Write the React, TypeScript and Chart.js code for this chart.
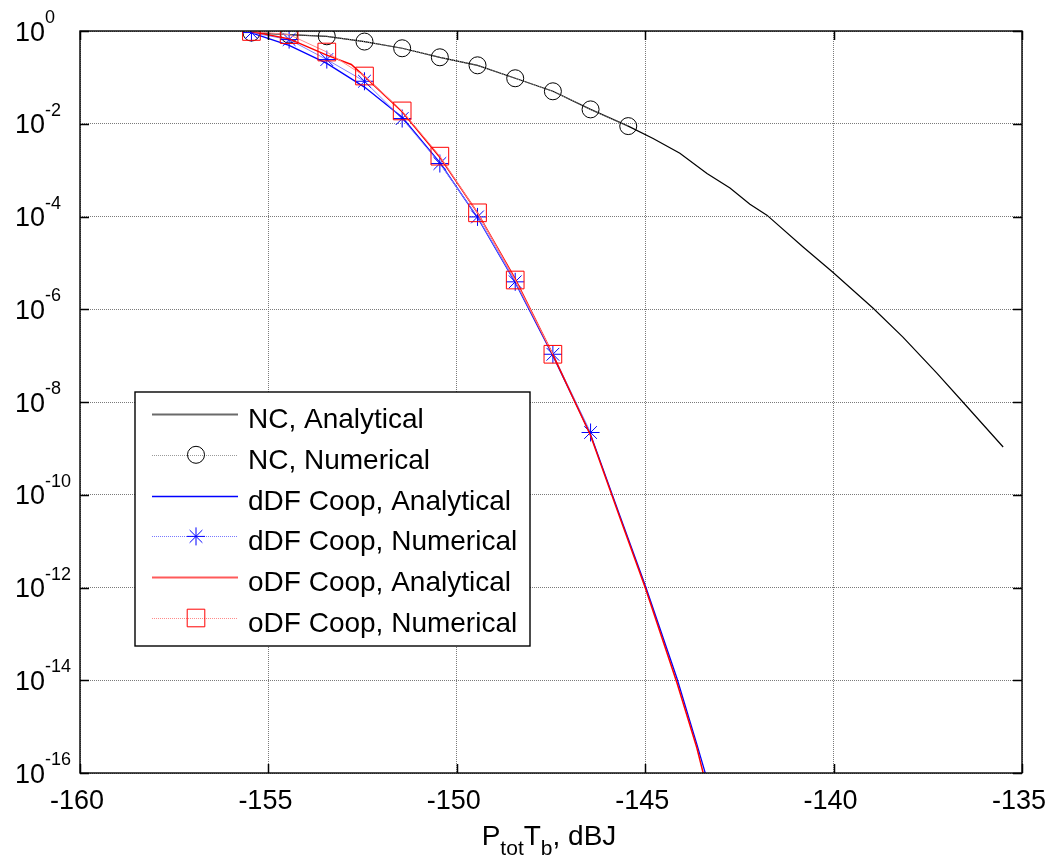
import React, { useEffect, useRef } from 'react';
import { Chart, registerables } from 'chart.js';

Chart.register(...registerables);

// ---------- data ----------
const xTicks = [-160, -155, -150, -145, -140, -135];
const yTickExponents = [0, -2, -4, -6, -8, -10, -12, -14, -16];

const seriesLabels = [
  'NC, Analytical',
  'NC, Numerical',
  'dDF Coop, Analytical',
  'dDF Coop, Numerical',
  'oDF Coop, Analytical',
  'oDF Coop, Numerical',
];

const ncNumericalX = [-155.45, -154.45, -153.45, -152.45, -151.45, -150.45, -149.45, -148.45, -147.45, -146.45, -145.45];
const ncNumerical = [0.925, 0.836, 0.769, 0.592, 0.424, 0.271, 0.182, 0.0957, 0.0501, 0.0204, 0.0089];

const ncAnalyticalX = [-155.45, -154.45, -153.45, -152.45, -151.45, -150.45, -149.45, -148.45, -147.45, -146.45, -145.45,
  -144.79, -144.08, -143.36, -142.75, -142.22, -141.77, -140.81, -140.02, -138.95, -138.16, -137.26, -136.57, -135.5];
const ncAnalytical = [0.925, 0.836, 0.769, 0.592, 0.424, 0.271, 0.182, 0.0957, 0.0501, 0.0204, 0.0089,
  4.8e-3, 2.3e-3, 8.5e-4, 4.1e-4, 1.84e-4, 1.07e-4, 2.2e-5, 6.3e-6, 1.05e-6, 2.5e-7, 4.2e-8, 1.0e-8, 1.07e-9];

const ddfNumericalX = [-155.45, -154.45, -153.45, -152.45, -151.45, -150.45, -149.45, -148.45, -147.45, -146.45];
const ddfNumerical = [0.925, 0.653, 0.242, 0.0824, 0.01294, 1.387e-3, 9.8e-5, 3.9e-6, 1.07e-7, 2.2e-9];

const ddfAnalyticalX = [-155.45, -154.45, -153.45, -152.45, -151.45, -150.45, -149.45, -148.45, -147.45, -146.45,
  -145.67, -145.0, -144.16, -143.63, -143.37];
const ddfAnalytical = [0.912, 0.49, 0.2, 0.0617, 0.0138, 1.45e-3, 9.5e-5, 3.8e-6, 1.0e-7, 2.0e-9,
  3.5e-11, 1.12e-12, 1.12e-14, 4.2e-16, 7.9e-17];

const odfNumericalX = [-155.45, -154.45, -153.45, -152.45, -151.45, -150.45, -149.45, -148.45, -147.45];
const odfNumerical = [0.977, 0.836, 0.352, 0.107, 0.0189, 2.0e-3, 1.2e-4, 4.27e-6, 1.07e-7];

const odfAnalyticalX = [-155.45, -154.45, -153.45, -152.8, -152.45, -151.45, -150.45, -149.45, -148.45, -147.45, -146.45,
  -145.67, -145.0, -144.16, -143.63, -143.43];
const odfAnalytical = [0.977, 0.676, 0.302, 0.19, 0.105, 0.0182, 1.9e-3, 1.2e-4, 4.5e-6, 1.05e-7, 1.9e-9,
  3.2e-11, 1.0e-12, 8.9e-15, 3.5e-16, 7.9e-17];

// ---------- helpers ----------
const zip = (xs: number[], ys: number[]) => xs.map((x, i) => ({ x, y: ys[i] }));

const FONT = '"Liberation Sans", Arial, Helvetica, sans-serif';

type MarkerKind = 'circle' | 'star' | 'rect' | null;

function drawMarker(ctx: CanvasRenderingContext2D, kind: MarkerKind, x: number, y: number, color: string) {
  if (!kind) return;
  ctx.save();
  ctx.strokeStyle = color;
  ctx.lineWidth = 1;
  ctx.setLineDash([]);
  ctx.beginPath();
  if (kind === 'circle') {
    ctx.arc(x, y, 8.5, 0, Math.PI * 2);
  } else if (kind === 'rect') {
    ctx.rect(x - 8.8, y - 8.8, 17.6, 17.6);
  } else if (kind === 'star') {
    const r = 9;
    const d = r * Math.SQRT1_2;
    ctx.moveTo(x - r, y); ctx.lineTo(x + r, y);
    ctx.moveTo(x, y - r); ctx.lineTo(x, y + r);
    ctx.moveTo(x - d, y - d); ctx.lineTo(x + d, y + d);
    ctx.moveTo(x - d, y + d); ctx.lineTo(x + d, y - d);
  }
  ctx.stroke();
  ctx.restore();
}

const legendStyles: { color: string; width: number; dash: number[]; marker: MarkerKind; markerColor: string }[] = [
  { color: '#6a6a6a', width: 2, dash: [], marker: null, markerColor: '#000' },
  { color: '#9a9a9a', width: 1, dash: [1, 1], marker: 'circle', markerColor: '#000' },
  { color: '#0000ff', width: 1.5, dash: [], marker: null, markerColor: '#00f' },
  { color: '#7878ff', width: 1, dash: [1, 1], marker: 'star', markerColor: '#0000ff' },
  { color: '#ff5a5a', width: 2, dash: [], marker: null, markerColor: '#f00' },
  { color: '#ff8a8a', width: 1, dash: [1, 1], marker: 'rect', markerColor: '#ff0000' },
];

const matlabPlugin = {
  id: 'matlabAxes',
  afterDraw(chart: any) {
    const { ctx, chartArea: a, scales } = chart;
    const xs = scales.x;
    const ys = scales.y;
    ctx.save();

    // tick marks (inward, all four sides)
    ctx.strokeStyle = '#000';
    ctx.lineWidth = 1.5;
    ctx.setLineDash([]);
    const tl = 9;
    ctx.beginPath();
    xTicks.forEach((v) => {
      const px = Math.round(xs.getPixelForValue(v)) + 0.5;
      ctx.moveTo(px, a.bottom); ctx.lineTo(px, a.bottom - tl);
      ctx.moveTo(px, a.top); ctx.lineTo(px, a.top + tl);
    });
    yTickExponents.forEach((e) => {
      const py = Math.round(ys.getPixelForValue(Math.pow(10, e))) + 0.5;
      ctx.moveTo(a.left, py); ctx.lineTo(a.left + tl, py);
      ctx.moveTo(a.right, py); ctx.lineTo(a.right - tl, py);
    });
    ctx.stroke();

    // frame
    ctx.lineWidth = 1.4;
    ctx.strokeRect(a.left, a.top, a.right - a.left, a.bottom - a.top);

    // x tick labels
    ctx.fillStyle = '#000';
    ctx.font = `27px ${FONT}`;
    ctx.textAlign = 'center';
    ctx.textBaseline = 'alphabetic';
    xTicks.forEach((v) => {
      const px = xs.getPixelForValue(v);
      ctx.fillText(String(v), px - 3, a.bottom + 36);
    });

    // y tick labels: 10^e
    yTickExponents.forEach((e) => {
      const py = ys.getPixelForValue(Math.pow(10, e));
      ctx.textAlign = 'left';
      ctx.font = `27px ${FONT}`;
      const baseX = 15;
      ctx.fillText('10', baseX, py + 9.5);
      const w = ctx.measureText('10').width;
      ctx.font = `18px ${FONT}`;
      ctx.fillText(String(e), baseX + w, py - 8);
    });

    // x axis title: P_tot T_b, dBJ
    const parts: { t: string; sub: boolean }[] = [
      { t: 'P', sub: false },
      { t: 'tot', sub: true },
      { t: 'T', sub: false },
      { t: 'b', sub: true },
      { t: ', dBJ', sub: false },
    ];
    const mainFont = `28px ${FONT}`;
    const subFont = `21px ${FONT}`;
    let total = 0;
    parts.forEach((p) => {
      ctx.font = p.sub ? subFont : mainFont;
      total += ctx.measureText(p.t).width;
    });
    let cx = (a.left + a.right) / 2 - 2 - total / 2;
    ctx.textAlign = 'left';
    parts.forEach((p) => {
      ctx.font = p.sub ? subFont : mainFont;
      ctx.fillText(p.t, cx, p.sub ? a.bottom + 82 : a.bottom + 72);
      cx += ctx.measureText(p.t).width;
    });

    // legend box
    const L = { left: a.left + 55, top: a.top + 361, width: 395, height: 254 };
    ctx.fillStyle = '#fff';
    ctx.fillRect(L.left, L.top, L.width, L.height);
    ctx.strokeStyle = '#000';
    ctx.lineWidth = 1.4;
    ctx.strokeRect(L.left, L.top, L.width, L.height);

    chart.data.datasets.forEach((ds: any, i: number) => {
      const st = legendStyles[i];
      const ly = L.top + 22 + i * 40.8;
      ctx.save();
      ctx.strokeStyle = st.color;
      ctx.lineWidth = st.width;
      ctx.setLineDash(st.dash);
      ctx.beginPath();
      ctx.moveTo(L.left + 17, Math.round(ly) + 0.5);
      ctx.lineTo(L.left + 103, Math.round(ly) + 0.5);
      ctx.stroke();
      ctx.restore();
      drawMarker(ctx, st.marker, L.left + 61, ly, st.markerColor);
      ctx.fillStyle = '#000';
      ctx.font = `28px ${FONT}`;
      ctx.textAlign = 'left';
      ctx.fillText(ds.label, L.left + 113, ly + 14);
    });

    ctx.restore();
  },
};

export default function App() {
  const ref = useRef<HTMLCanvasElement | null>(null);

  useEffect(() => {
    if (!ref.current) return;
    const chart = new Chart(ref.current, {
      type: 'scatter',
      data: {
        datasets: [
          {
            label: seriesLabels[0],
            data: zip(ncAnalyticalX, ncAnalytical),
            showLine: true,
            borderColor: '#000000',
            borderWidth: 1.2,
            pointRadius: 0,
            order: 6,
          },
          {
            label: seriesLabels[1],
            data: zip(ncNumericalX, ncNumerical),
            showLine: true,
            borderColor: '#a0a0a0',
            borderWidth: 1,
            borderDash: [1, 1],
            pointStyle: 'circle',
            pointRadius: 8.5,
            pointBorderColor: '#000000',
            pointBackgroundColor: 'rgba(0,0,0,0)',
            pointBorderWidth: 1,
            order: 5,
          },
          {
            label: seriesLabels[2],
            data: zip(ddfAnalyticalX, ddfAnalytical),
            showLine: true,
            borderColor: '#0000ff',
            borderWidth: 1.3,
            pointRadius: 0,
            order: 4,
          },
          {
            label: seriesLabels[3],
            data: zip(ddfNumericalX, ddfNumerical),
            showLine: true,
            borderColor: '#8080ff',
            borderWidth: 1,
            pointStyle: 'star',
            pointRadius: 9,
            pointBorderColor: '#0000ff',
            pointBackgroundColor: 'rgba(0,0,0,0)',
            pointBorderWidth: 1,
            order: 3,
          },
          {
            label: seriesLabels[4],
            data: zip(odfAnalyticalX, odfAnalytical),
            showLine: true,
            borderColor: '#ff0000',
            borderWidth: 1.5,
            pointRadius: 0,
            order: 2,
          },
          {
            label: seriesLabels[5],
            data: zip(odfNumericalX, odfNumerical),
            showLine: true,
            borderColor: '#ff8c8c',
            borderWidth: 1,
            pointStyle: 'rect',
            pointRadius: 12.5,
            pointBorderColor: '#ff0000',
            pointBackgroundColor: 'rgba(0,0,0,0)',
            pointBorderWidth: 1,
            order: 1,
          },
        ],
      },
      options: {
        responsive: false,
        animation: false,
        events: [],
        layout: { padding: { left: 80, top: 31, right: 26, bottom: 86 } },
        plugins: {
          legend: { display: false },
          tooltip: { enabled: false },
        },
        elements: { line: { tension: 0 } },
        scales: {
          x: {
            type: 'linear',
            min: -160,
            max: -135,
            ticks: { display: false, stepSize: 5 },
            grid: { color: '#7a7a7a', lineWidth: 1, drawTicks: false },
            border: { display: false, dash: [1, 1] },
            title: { display: false },
          },
          y: {
            type: 'logarithmic',
            min: 1e-16,
            max: 1,
            afterBuildTicks: (scale: any) => {
              scale.ticks = yTickExponents.map((e) => ({ value: Math.pow(10, e) }));
            },
            ticks: { display: false },
            grid: { color: '#7a7a7a', lineWidth: 1, drawTicks: false },
            border: { display: false, dash: [1, 1] },
            title: { display: false },
          },
        },
      },
      plugins: [matlabPlugin],
    } as any);
    return () => chart.destroy();
  }, []);

  return (
    <div style={{ position: 'absolute', left: 0, top: 0, width: 1048, height: 859, background: '#fff' }}>
      <canvas ref={ref} width={1048} height={859} style={{ display: 'block' }} />
    </div>
  );
}
